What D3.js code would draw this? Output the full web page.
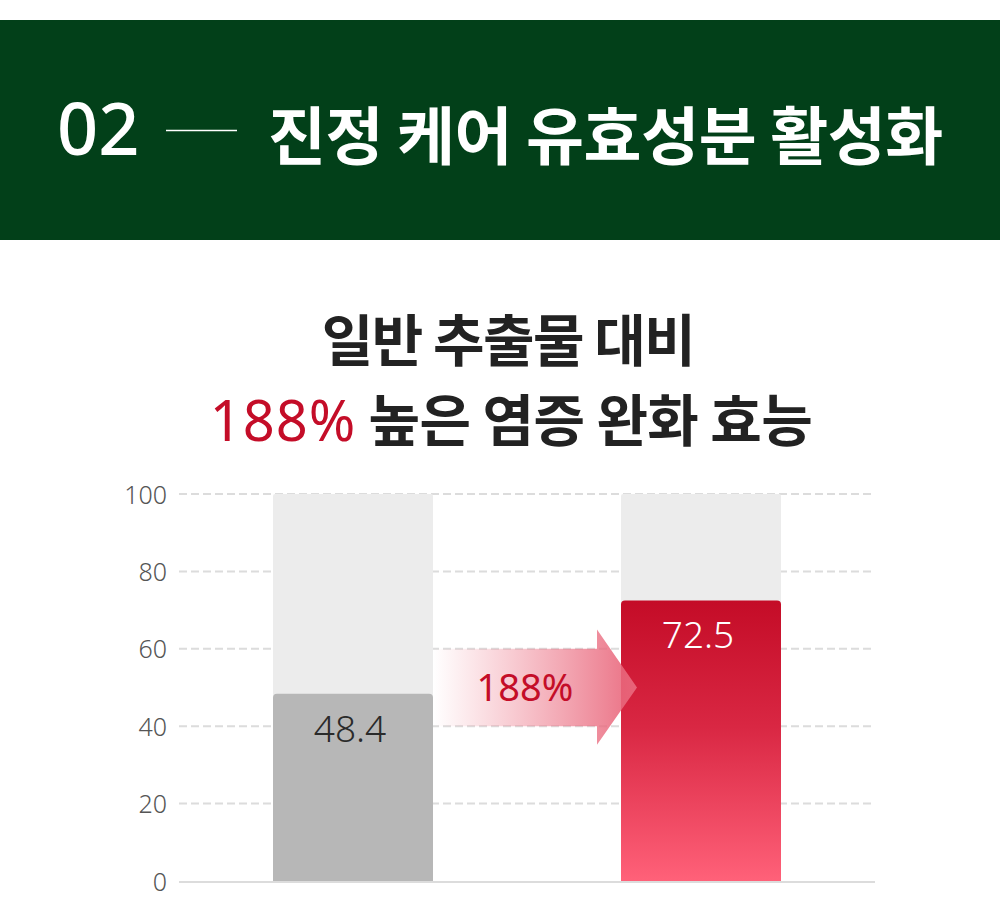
<!DOCTYPE html>
<html><head><meta charset="utf-8">
<script src="https://cdn.jsdelivr.net/npm/d3@7"></script>
<style>html,body{margin:0;padding:0;background:#fff;}svg{display:block;}</style>
</head><body>
<svg id="c" width="1000" height="899"></svg>
<script>
const headerNumber = "02";
const headerTitle = "진정 케어 유효성분 활성화";
const titleLine1 = "일반 추출물 대비";
const titleHighlight = "188%";
const titleLine2 = " 높은 염증 완화 효능";
const categories = ["일반 추출물", "진정 케어 유효성분"];
const values = [48.4, 72.5];
const maxValues = [100, 100];
const valueLabels = ["48.4", "72.5"];
const yTicks = [0, 20, 40, 60, 80, 100];
const increaseLabel = "188%";

const svg = d3.select("#c");
const defs = svg.append("defs");

// header
svg.append("rect").attr("x",0).attr("y",20).attr("width",1000).attr("height",220).attr("fill","#024019");
svg.append("text").attr("x",57).attr("y",155).text(headerNumber)
  .attr("font-family","'Noto Sans', sans-serif").attr("font-size",72).attr("font-weight",500).attr("fill","#fff");
svg.append("line").attr("x1",166).attr("x2",237).attr("y1",130.5).attr("y2",130.5).attr("stroke","#fff").attr("stroke-width",1.3);
svg.append("text").attr("x",268).attr("y",159).text(headerTitle)
  .attr("font-family","'Noto Sans CJK KR', sans-serif").attr("font-size",63).attr("font-weight",700).attr("fill","#fff")
  .attr("letter-spacing",-0.4);

// titles
svg.append("text").attr("x",508).attr("y",361).attr("text-anchor","middle").text(titleLine1)
  .attr("font-family","'Noto Sans CJK KR', sans-serif").attr("font-size",56).attr("font-weight",700).attr("fill","#222").attr("letter-spacing",-1.5);
const t2 = svg.append("text").attr("x",511).attr("y",441).attr("text-anchor","middle")
  .attr("font-family","'Noto Sans CJK KR', sans-serif").attr("font-size",56).attr("font-weight",700).attr("fill","#222").attr("letter-spacing",-0.6);
t2.append("tspan").attr("fill","#c40d28").attr("font-family","'Noto Sans', sans-serif").attr("font-weight",400).attr("letter-spacing",1).text(titleHighlight);
t2.append("tspan").text(titleLine2);

// scales
const y = d3.scaleLinear().domain([0,100]).range([881,494]);
const x = d3.scalePoint().domain(categories).range([353,701]);
const barW = 160;

// grid
const gridG = svg.append("g");
gridG.selectAll("line").data(yTicks.filter(d=>d>0)).join("line")
  .attr("x1",179).attr("x2",871).attr("y1",d=>y(d)).attr("y2",d=>y(d))
  .attr("stroke","#dcdcdc").attr("stroke-width",2).attr("stroke-dasharray","8,4");

// axis labels
const axis = d3.axisLeft(y).tickValues(yTicks).tickSize(0).tickPadding(0).tickFormat(d3.format("d"));
const ag = svg.append("g").attr("transform","translate(167,0)").call(axis);
ag.select(".domain").remove();
ag.selectAll("text").attr("font-family","'Noto Sans', sans-serif").attr("font-size",25).attr("font-weight",300).attr("fill","#555").attr("dy","0.36em");

function topRounded(x0, y0, w, h, r){
  return `M${x0},${y0+h}V${y0+r}Q${x0},${y0} ${x0+r},${y0}H${x0+w-r}Q${x0+w},${y0} ${x0+w},${y0+r}V${y0+h}Z`;
}

// background bars
svg.append("g").selectAll("path").data(categories).join("path")
  .attr("d",(c,i)=>topRounded(x(c)-barW/2, y(maxValues[i]), barW, y(0)-y(maxValues[i]), 2))
  .attr("fill","#ececec");

// gradient for red bar
const rg = defs.append("linearGradient").attr("id","redGrad").attr("x1",0).attr("y1",0).attr("x2",0).attr("y2",1);
rg.append("stop").attr("offset","0%").attr("stop-color","#c40c27");
rg.append("stop").attr("offset","45%").attr("stop-color","#d92743");
rg.append("stop").attr("offset","100%").attr("stop-color","#ff6179");

const fills = ["#b7b7b7","url(#redGrad)"];
svg.append("g").selectAll("path").data(categories).join("path")
  .attr("d",(c,i)=>topRounded(x(c)-barW/2, y(values[i]), barW, y(0)-y(values[i]), 4))
  .attr("fill",(c,i)=>fills[i]);

// baseline
svg.append("line").attr("x1",179).attr("x2",875).attr("y1",y(0)+1).attr("y2",y(0)+1).attr("stroke","#dcdcdc").attr("stroke-width",2);

// arrow
const ag2 = defs.append("linearGradient").attr("id","arrowGrad").attr("x1",0).attr("y1",0).attr("x2",1).attr("y2",0);
ag2.append("stop").attr("offset","0%").attr("stop-color","#ee7a8b").attr("stop-opacity",0);
ag2.append("stop").attr("offset","100%").attr("stop-color","#e9677c").attr("stop-opacity",0.95);
const ax0 = x(categories[0]) + barW/2, ax1 = x(categories[1]) - barW/2 + 16, headBase = ax1 - 40;
const sTop = y(60), sBot = y(40), hTop = y(65), hBot = y(35.2), mid = (sTop+sBot)/2;
svg.append("path")
  .attr("d",`M${ax0},${sTop}H${headBase}V${hTop}L${ax1},${mid}L${headBase},${hBot}V${sBot}H${ax0}Z`)
  .attr("fill","url(#arrowGrad)");
svg.append("text").attr("x",525).attr("y",mid+13).attr("text-anchor","middle").text(increaseLabel)
  .attr("font-family","'Noto Sans', sans-serif").attr("font-size",38).attr("font-weight",400).attr("fill","#c40d28");

// value labels
const labelColors = ["#2a2a2a","#fff"];
svg.append("g").selectAll("text").data(categories).join("text")
  .attr("x",c=>x(c)-3).attr("y",(c,i)=>y(values[i])+48)
  .attr("text-anchor","middle").text((c,i)=>valueLabels[i])
  .attr("font-family","'Noto Sans', sans-serif").attr("font-size",37).attr("font-weight",300).attr("fill",(c,i)=>labelColors[i]);
</script>
</body></html>
